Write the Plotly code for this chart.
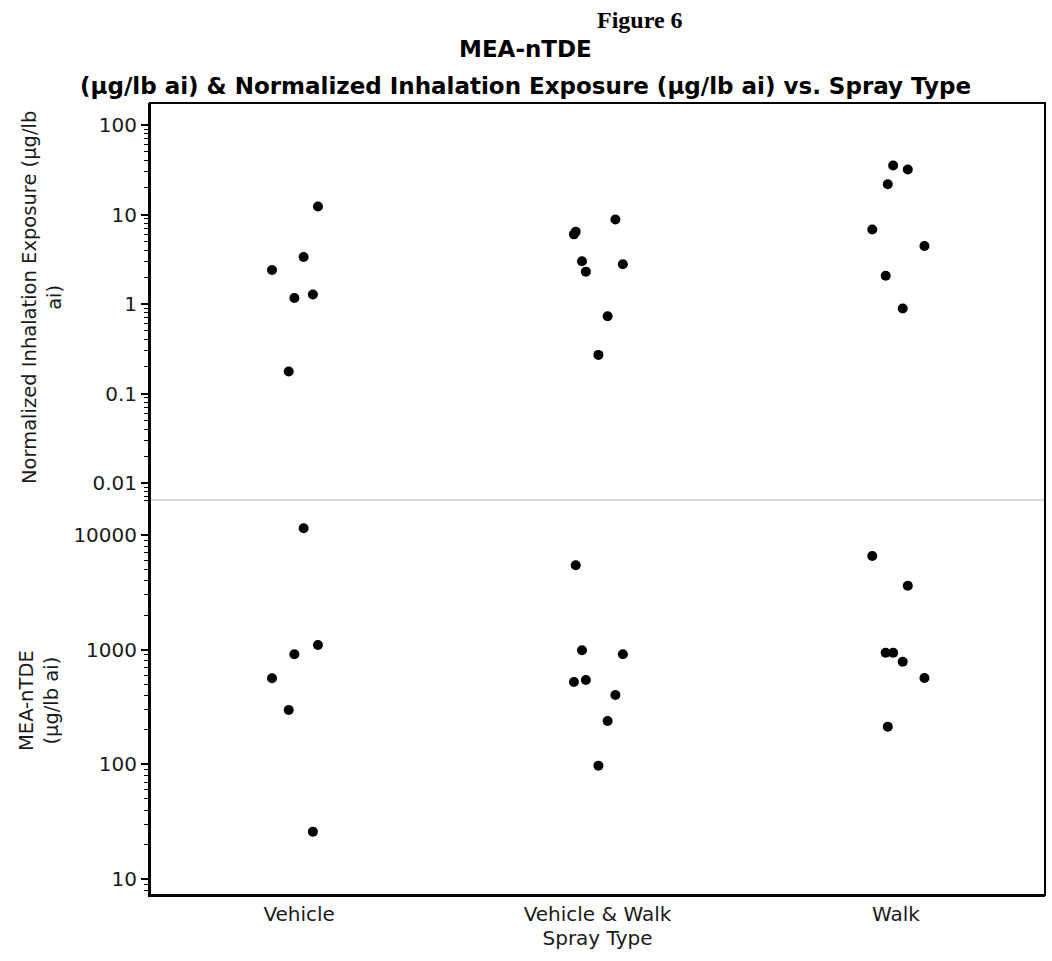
import plotly.graph_objects as go

# ---- data (one entry per observation; same observation in both panels) ----
categories = ["Vehicle", "Vehicle & Walk", "Walk"]
spray_type = (["Vehicle"] * 6) + (["Vehicle & Walk"] * 8) + (["Walk"] * 7)
jitter = [0.063, 0.015, -0.091, -0.016, 0.046, -0.035,
          0.060, -0.073, -0.079, -0.052, -0.039, 0.085, 0.034, 0.003,
          -0.009, 0.040, -0.027, -0.079, 0.096, -0.034, 0.023]
inhalation = [12.3, 3.35, 2.4, 1.17, 1.28, 0.176,
              8.8, 6.4, 6.0, 3.0, 2.3, 2.78, 0.73, 0.27,
              35.3, 31.8, 21.8, 6.8, 4.45, 2.07, 0.89]
mea_ntde = [1100, 11440, 564, 912, 25.9, 298,
            403, 5450, 523, 988, 544, 912, 239, 97.5,
            942, 3610, 213, 6560, 566, 942, 785]

top_tickvals = [0.01, 0.1, 1, 10, 100]
top_ticktext = ["0.01", "0.1", "1", "10", "100"]
bot_tickvals = [10, 100, 1000, 10000]
bot_ticktext = ["10", "100", "1000", "10000"]

x_pos = [categories.index(s) + j for s, j in zip(spray_type, jitter)]

FONT = "DejaVu Sans"
TXT = "#1a1a1a"

fig = go.Figure()
marker = dict(color="black", size=10, line=dict(width=0))
fig.add_trace(go.Scatter(x=x_pos, y=inhalation, mode="markers", marker=marker,
                         xaxis="x", yaxis="y2", showlegend=False))
fig.add_trace(go.Scatter(x=x_pos, y=mea_ntde, mode="markers", marker=marker,
                         xaxis="x", yaxis="y", showlegend=False))

split = 0.4987
bot_range = [0.861, 4.305]
top_range = [-2.19, 2.246]


def yax(tv, tt, rng, dom):
    return dict(
        type="log", range=rng, domain=dom, anchor="x",
        tickmode="array", tickvals=tv, ticktext=tt,
        showgrid=False, zeroline=False, showline=True, linecolor="black", linewidth=2,
        ticks="outside", ticklen=7, tickwidth=1.5, tickcolor="black",
        minor=dict(ticks="outside", ticklen=4, tickwidth=1.2, tickcolor="black",
                   dtick="D1", showgrid=False),
        tickfont=dict(family=FONT, size=20, color=TXT),
    )


fig.update_layout(
    width=1052, height=961,
    margin=dict(l=150, r=7, t=103, b=66),
    paper_bgcolor="white", plot_bgcolor="white",
    xaxis=dict(
        range=[-0.5, 2.5], tickmode="array", tickvals=[0, 1, 2], ticktext=categories,
        showgrid=False, zeroline=False, showline=True, linecolor="black", linewidth=2,
        ticks="", tickfont=dict(family=FONT, size=20, color=TXT),
        title=dict(text="Spray Type", font=dict(family=FONT, size=20, color=TXT), standoff=4),
        anchor="y",
    ),
    yaxis=yax(bot_tickvals, bot_ticktext, bot_range, [0, split]),
    yaxis2=yax(top_tickvals, top_ticktext, top_range, [split, 1]),
    shapes=[
        dict(type="line", xref="paper", yref="paper", x0=0, x1=1, y0=split, y1=split,
             line=dict(color="#cfcfcf", width=1.5), layer="above"),
        dict(type="rect", xref="paper", yref="paper", x0=0, x1=1, y0=0, y1=1,
             line=dict(color="black", width=2), layer="above"),
    ],
    annotations=[
        dict(text="<b>Figure 6</b>", xref="paper", yref="paper", x=0.5475, y=1.1048,
             xanchor="center", yanchor="middle", showarrow=False,
             font=dict(family="Liberation Serif", size=24, color="black")),
        dict(text="<b>MEA-nTDE</b>", xref="paper", yref="paper", x=0.419, y=1.068,
             xanchor="center", yanchor="middle", showarrow=False,
             font=dict(family=FONT, size=23, color="black")),
        dict(text="<b>(µg/lb ai) & Normalized Inhalation Exposure (µg/lb ai) vs. Spray Type</b>",
             xref="paper", yref="paper", x=0.419, y=1.0215,
             xanchor="center", yanchor="middle", showarrow=False,
             font=dict(family=FONT, size=23, color="black")),
        dict(text="Normalized Inhalation Exposure (µg/lb<br>ai)", xref="paper", yref="paper",
             x=-0.1207, y=0.755, xanchor="center", yanchor="middle", textangle=-90,
             showarrow=False, font=dict(family=FONT, size=19.5, color=TXT)),
        dict(text="MEA-nTDE<br>(µg/lb ai)", xref="paper", yref="paper",
             x=-0.124, y=0.245, xanchor="center", yanchor="middle", textangle=-90,
             showarrow=False, font=dict(family=FONT, size=19.5, color=TXT)),
    ],
)

fig.write_html("out.html", config={"displayModeBar": False},
               post_script="document.body.style.margin='0';")
